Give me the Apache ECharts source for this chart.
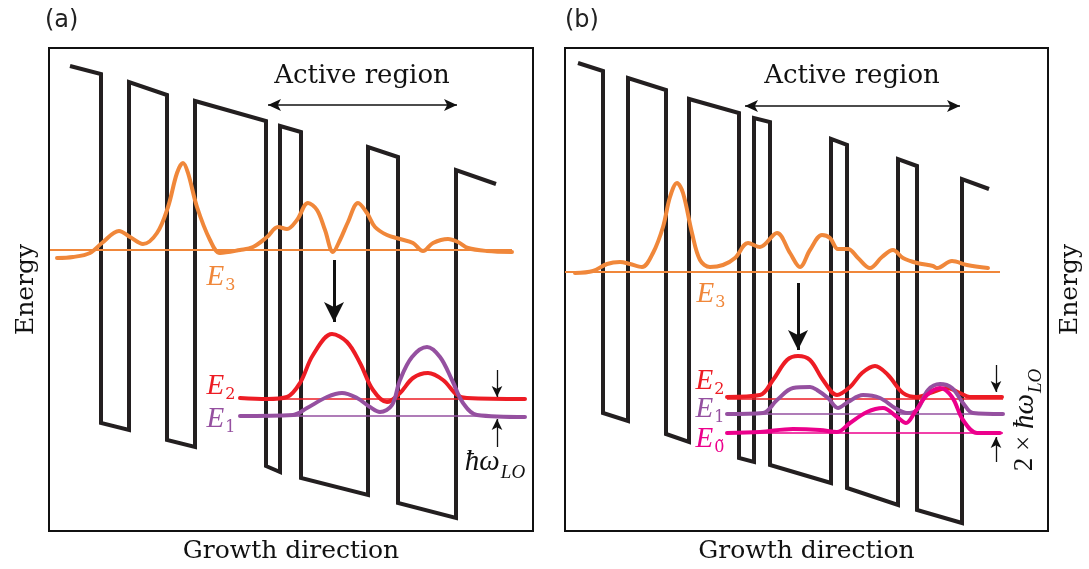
<!DOCTYPE html>
<html><head><meta charset="utf-8">
<script src="https://cdn.jsdelivr.net/npm/echarts@6/dist/echarts.min.js"></script>
<style>html,body{margin:0;padding:0;background:#fff}#chart{width:1089px;height:569px}</style>
</head><body><div id="chart"></div>
<script>
// Positions along the growth direction and energies are in arbitrary units.

// Conduction-band edge, panel (a)
const bandA = [[21,465],[52,457],[52,108],[80,101],[80,449],[118,436],[118,91],[146,84],[146,430],[217,410],[217,65],[231,59],[231,405],[252,399],[252,53],[319,36],[319,384],[349,374],[349,28],[407,13],[407,361],[447,347]];
// Conduction-band edge, panel (b)
const bandB = [[13,468],[38,460],[38,118],[63,110],[63,453],[101,441],[101,97],[124,89],[124,432],[174,418],[174,73],[189,69],[189,413],[205,409],[205,66],[266,48],[266,392],[282,386],[282,43],[333,26],[333,372],[352,365],[352,21],[397,8],[397,352],[424,342]];

// Subband energies [E3, E2, E1] and their horizontal extent, panel (a)
const levelsA = [281, 132, 115];
const spanA3 = [1, 463];
const spanA21 = [191, 476];
// Subband energies [E3, E2, E1, E0~], panel (b)
const levelsB = [259, 132, 117, 98];
const spanB3 = [0, 435];
const spanB210 = [162, 438];

// Squared wavefunctions, panel (a)
const psi3A = [[8,273],[24,274],[41,278],[53,288],[70,300],[81,294],[94,287],[108,298],[119,324],[128,358],[134,368],[139,358],[148,324],[161,291],[171,278],[191,281],[204,284],[218,294],[229,304],[238,302],[248,311],[259,328],[268,321],[276,301],[284,279],[291,291],[299,309],[309,328],[318,318],[326,304],[338,296],[351,292],[364,288],[374,280],[384,288],[399,292],[409,289],[419,283],[438,280],[463,279]];
const psi2A = [[191,133],[218,132],[238,134],[251,148],[264,176],[283,197],[298,189],[311,168],[324,141],[338,129],[351,138],[364,153],[379,158],[394,151],[408,136],[418,133],[476,132]];
const psi1A = [[191,115],[244,116],[258,123],[278,134],[293,138],[308,133],[321,124],[331,119],[343,126],[351,151],[363,174],[378,184],[391,174],[403,151],[414,128],[428,116],[476,114]];

// Squared wavefunctions, panel (b)
const psi3B = [[10,258],[28,260],[42,267],[55,269],[65,267],[77,264],[88,278],[98,304],[105,334],[112,348],[118,338],[127,298],[135,271],[145,264],[158,266],[170,273],[183,288],[195,284],[212,298],[225,278],[235,264],[245,281],[257,296],[265,293],[273,282],[283,282],[293,273],[305,263],[317,274],[328,281],[338,273],[352,268],[368,265],[372,263],[387,270],[402,266],[423,263]];
const psi2B = [[162,134],[195,136],[208,151],[222,171],[233,175],[245,171],[258,151],[272,136],[285,144],[297,158],[310,165],[323,156],[338,138],[352,134],[368,139],[382,143],[395,138],[405,134],[437,134]];
const psi1B = [[162,117],[198,118],[212,131],[228,143],[245,144],[252,141],[263,133],[273,123],[283,129],[298,136],[315,133],[330,123],[342,118],[352,121],[363,141],[375,147],[387,143],[398,128],[408,118],[438,117]];
const psi0B = [[162,98],[195,99],[228,102],[255,101],[272,99],[285,108],[302,119],[318,123],[332,114],[341,108],[350,119],[362,136],[375,143],[387,134],[398,111],[412,98],[435,98]];

// Arrows: [from, to]
const transA = [[285,271],[285,209]];
const transB = [[233,248],[233,181]];
const activeA = [[219,426],[408,426]];
const activeB = [[180,425],[395,425]];
const phononA = [[[448,161],[448,134]], [[448,84],[448,112]]];
const phononB = [[[431,166],[431,139]], [[431,69],[431,94]]];

// Text anchors
const labelPosA = {E3:[172,253], E2:[172,144], E1:[172,111], hw:[446,68], active:[313,455]};
const labelPosB = {E3:[146,236], E2:[145,149], E1:[145,121], E0:[145,91], hw:[461,111], active:[287,455]};

const C = {band:'#231F20', e3:'#F0873A', e2:'#ED1C24', e1:'#9550A0', e0:'#EC008C', ink:'#111111'};
const SERIF = 'DejaVu Serif';
const ITAL = 'Liberation Serif';

function poly(idx, data, color, width, smooth, z) {
  return {type:'line', xAxisIndex:idx, yAxisIndex:idx, data:data, showSymbol:false, symbol:'none',
    smooth:smooth, z:z, silent:true,
    lineStyle:{color:color, width:width, join:smooth ? 'round' : 'miter', cap:smooth ? 'round' : 'butt'}};
}
function level(idx, y, span, color, width) {
  return poly(idx, [[span[0], y],[span[1], y]], color, width, false, 3);
}
function arrow(pair, width, size, both) {
  return [{coord:pair[0], symbol: both ? 'arrow' : 'none', symbolSize:size},
          {coord:pair[1], symbol:'arrow', symbolSize:size,
           lineStyle:{color:C.ink, width:width}}];
}
const sub = {
  e:{fontFamily:ITAL, fontStyle:'italic', fontSize:29, lineHeight:30, verticalAlign:'top'},
  s:{fontFamily:SERIF, fontSize:16, lineHeight:18, padding:[15,0,0,1], verticalAlign:'top'},
  u:{fontFamily:ITAL, fontSize:27, lineHeight:30, verticalAlign:'top'},
  si:{fontFamily:ITAL, fontStyle:'italic', fontSize:19, lineHeight:18, padding:[15,0,0,1], verticalAlign:'top'}
};
function eLabel(pos, n, color) {
  return {value:pos, label:{show:true, position:'inside', color:color,
    formatter:'{e|E}{s|' + n + '}', rich:sub}};
}
function textSeries(idx, items) {
  return {type:'scatter', xAxisIndex:idx, yAxisIndex:idx, symbol:'circle', symbolSize:1, silent:true, z:6,
    itemStyle:{color:'rgba(0,0,0,0)', opacity:1}, data:items};
}
function arrowSeries(idx, lines) {
  return {type:'line', xAxisIndex:idx, yAxisIndex:idx, data:[], silent:true, z:5,
    markLine:{silent:true, animation:false, label:{show:false}, symbolOffset:0,
      lineStyle:{type:'solid'}, data:lines}};
}

const axisOff = {axisLine:{show:false}, axisTick:{show:false}, axisLabel:{show:false}, splitLine:{show:false}};
const nameStyle = {fontFamily:SERIF, fontSize:25, color:C.ink};
const activeLabel = {show:true, position:'inside', color:C.ink, formatter:'Active region', fontFamily:SERIF, fontSize:26};

const option = {
  animation:false,
  backgroundColor:'#fff',
  title:[
    {text:'(a)', left:40, top:4, textStyle:{fontFamily:'DejaVu Sans', fontSize:24, fontWeight:'normal', color:'#222'}},
    {text:'(b)', left:560, top:4, textStyle:{fontFamily:'DejaVu Sans', fontSize:24, fontWeight:'normal', color:'#222'}}
  ],
  grid:[
    {left:49, top:48, width:484, height:483, show:true, borderColor:'#111', borderWidth:2},
    {left:565, top:48, width:483, height:483, show:true, borderColor:'#111', borderWidth:2}
  ],
  xAxis:[
    Object.assign({type:'value', gridIndex:0, min:0, max:484, name:'Growth direction', nameLocation:'middle', nameGap:8, nameTextStyle:nameStyle}, axisOff),
    Object.assign({type:'value', gridIndex:1, min:0, max:483, name:'Growth direction', nameLocation:'middle', nameGap:8, nameTextStyle:nameStyle}, axisOff)
  ],
  yAxis:[
    Object.assign({type:'value', gridIndex:0, min:0, max:483, name:'Energy', nameLocation:'middle', nameRotate:90, nameGap:10, nameTextStyle:nameStyle}, axisOff),
    Object.assign({type:'value', gridIndex:1, min:0, max:483, position:'right', name:'Energy', nameLocation:'middle', nameRotate:90, nameGap:10, nameTextStyle:nameStyle}, axisOff)
  ],
  series:[
    // panel (a)
    poly(0, bandA, C.band, 4, false, 2),
    level(0, levelsA[0], spanA3, C.e3, 2),
    level(0, levelsA[1], spanA21, C.e2, 1.6),
    level(0, levelsA[2], spanA21, C.e1, 1.6),
    poly(0, psi3A, C.e3, 4, 0.35, 4),
    poly(0, psi2A, C.e2, 4, 0.35, 4),
    poly(0, psi1A, C.e1, 4, 0.35, 4),
    arrowSeries(0, [
      arrow(transA, 3, [15,20], false),
      arrow(activeA, 1.5, [9,13], true),
      arrow(phononA[0], 1.3, [8,11], false),
      arrow(phononA[1], 1.3, [8,11], false)
    ]),
    textSeries(0, [
      eLabel(labelPosA.E3, '3', C.e3),
      eLabel(labelPosA.E2, '2', C.e2),
      eLabel(labelPosA.E1, '1', C.e1),
      {value:labelPosA.hw, label:{show:true, position:'inside', color:C.ink, formatter:'{e|ħω}{si|LO}', rich:sub}},
      {value:labelPosA.active, label:activeLabel}
    ]),
    // panel (b)
    poly(1, bandB, C.band, 4, false, 2),
    level(1, levelsB[0], spanB3, C.e3, 2),
    level(1, levelsB[1], spanB210, C.e2, 1.6),
    level(1, levelsB[2], spanB210, C.e1, 1.6),
    level(1, levelsB[3], spanB210, C.e0, 1.6),
    poly(1, psi3B, C.e3, 4, 0.35, 4),
    poly(1, psi2B, C.e2, 4, 0.35, 4),
    poly(1, psi1B, C.e1, 4, 0.35, 4),
    poly(1, psi0B, C.e0, 4, 0.35, 4),
    arrowSeries(1, [
      arrow(transB, 3, [15,20], false),
      arrow(activeB, 1.5, [9,13], true),
      arrow(phononB[0], 1.3, [8,11], false),
      arrow(phononB[1], 1.3, [8,11], false)
    ]),
    textSeries(1, [
      eLabel(labelPosB.E3, '3', C.e3),
      eLabel(labelPosB.E2, '2', C.e2),
      eLabel(labelPosB.E1, '1', C.e1),
      eLabel(labelPosB.E0, '0\u0303', C.e0),
      {value:labelPosB.hw, label:{show:true, position:'inside', color:C.ink, rotate:90, formatter:'{u|2 × }{e|ħω}{si|LO}', rich:sub}},
      {value:labelPosB.active, label:activeLabel}
    ])
  ]
};
const chart = echarts.init(document.getElementById('chart'), null, {renderer:'canvas'});
chart.setOption(option);
</script></body></html>
